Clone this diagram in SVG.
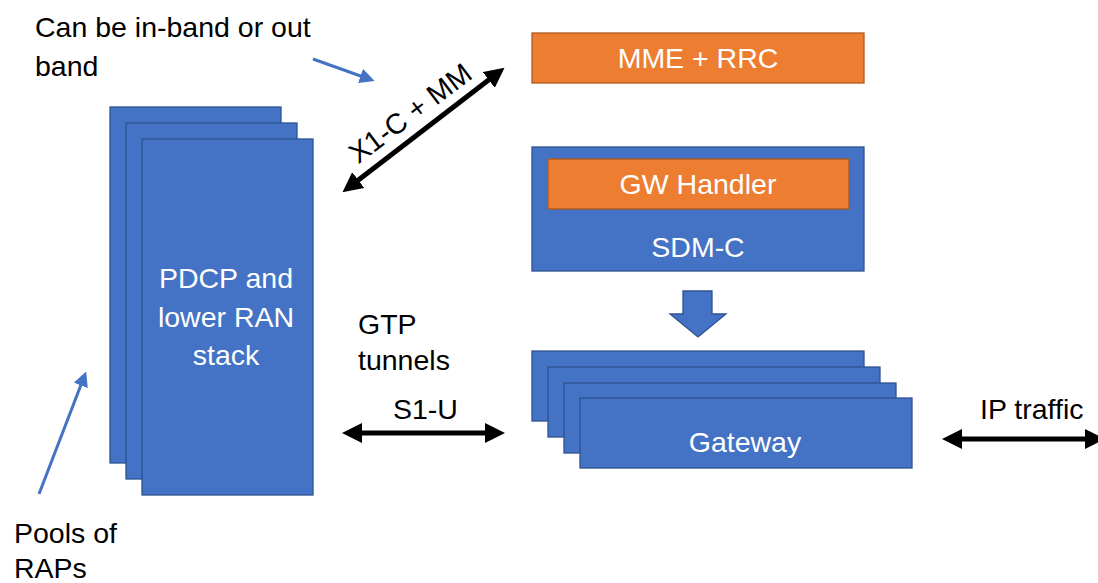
<svg xmlns="http://www.w3.org/2000/svg" width="1098" height="583" viewBox="0 0 1098 583">
<defs>
<style>
.blue{fill:#4472C4;stroke:#2F528F;stroke-width:1.3}
.orange{fill:#ED7D31;stroke:#AE5A21;stroke-width:1.3}
.wt{fill:#ffffff;font-family:"Liberation Sans",Arial,sans-serif;font-size:28.5px;text-anchor:middle}
.bt{fill:#000000;font-family:"Liberation Sans",Arial,sans-serif;font-size:28.5px}
.blk{stroke:#000;stroke-width:5;fill:none}
.thin{stroke:#4472C4;stroke-width:3;fill:none}
</style>
<marker id="ah" markerWidth="4" markerHeight="4" refX="2.6" refY="2" orient="auto-start-reverse" markerUnits="strokeWidth" viewBox="0 0 4 4">
<path d="M0,0 L4,2 L0,4 z" fill="#000"/>
</marker>
<marker id="bh" markerWidth="5" markerHeight="5" refX="3" refY="2.5" orient="auto" markerUnits="strokeWidth" viewBox="0 0 5 5">
<path d="M0,0 L5,2.5 L0,5 z" fill="#4472C4"/>
</marker>
</defs>
<rect width="1098" height="583" fill="#ffffff"/>

<g id="pdcp">
<rect class="blue" x="110" y="107" width="171" height="356"/>
<rect class="blue" x="126" y="123" width="171" height="356"/>
<rect class="blue" x="142" y="139" width="171" height="356"/>
<text class="wt" x="226" y="288">PDCP and</text>
<text class="wt" x="226" y="327">lower RAN</text>
<text class="wt" x="226" y="365">stack</text>
</g>

<g id="mme">
<rect class="orange" x="532" y="33" width="332" height="50"/>
<text class="wt" x="698" y="68">MME + RRC</text>
</g>

<g id="sdmc">
<rect class="blue" x="532" y="147" width="332" height="124"/>
<text class="wt" x="698" y="257">SDM-C</text>
</g>

<g id="gwhandler">
<rect class="orange" x="548" y="159" width="301" height="50"/>
<text class="wt" x="698" y="194">GW Handler</text>
</g>

<g id="gateway">
<rect class="blue" x="532" y="351" width="332" height="70"/>
<rect class="blue" x="548" y="367" width="332" height="70"/>
<rect class="blue" x="564" y="383" width="332" height="70"/>
<rect class="blue" x="580" y="398" width="332" height="70"/>
<text class="wt" x="745" y="452">Gateway</text>
</g>

<g id="connectors">
<path class="blue" d="M683,291 L712,291 L712,314 L726,314 L698,337 L670,314 L683,314 Z"/>
<line class="blk" x1="348" y1="188" x2="499" y2="72" marker-start="url(#ah)" marker-end="url(#ah)"/>
<line class="blk" x1="349" y1="433" x2="498" y2="433" marker-start="url(#ah)" marker-end="url(#ah)"/>
<line class="blk" x1="949" y1="439" x2="1098" y2="439" marker-start="url(#ah)" marker-end="url(#ah)"/>
<line class="thin" x1="313" y1="59" x2="369" y2="79" marker-end="url(#bh)"/>
<line class="thin" x1="39" y1="494" x2="84" y2="377" marker-end="url(#bh)"/>
</g>

<g id="labels">
<text class="bt" x="35" y="37">Can be in-band or out</text>
<text class="bt" x="35" y="76">band</text>
<text class="bt" x="14" y="543">Pools of</text>
<text class="bt" x="14" y="578">RAPs</text>
<text class="bt" x="358" y="334">GTP</text>
<text class="bt" x="358" y="370">tunnels</text>
<text class="bt" x="393" y="419">S1-U</text>
<text class="bt" x="980" y="419">IP traffic</text>
<text class="bt" text-anchor="middle" transform="translate(416,121) rotate(-37)">X1-C + MM</text>
</g>
</svg>
